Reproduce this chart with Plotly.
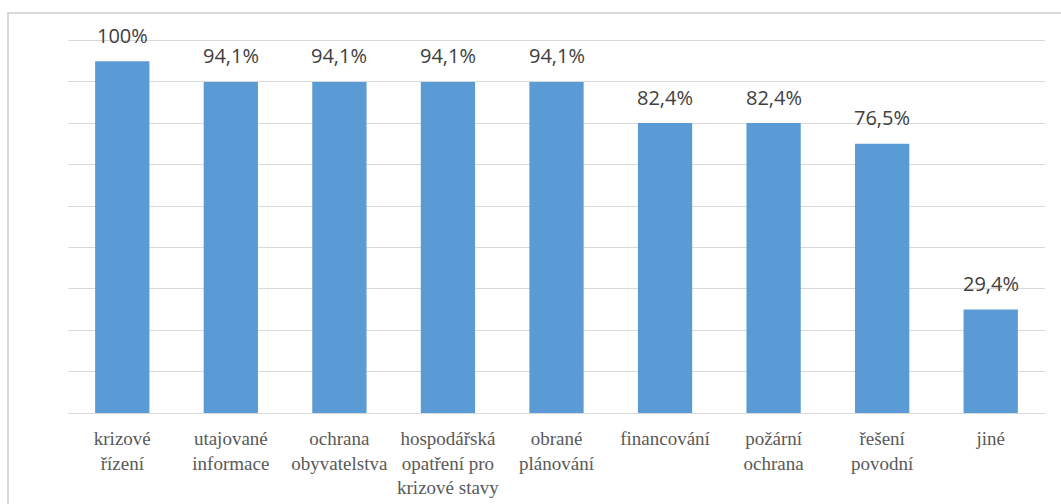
import plotly.graph_objects as go

categories = [
    "krizové<br>řízení",
    "utajované<br>informace",
    "ochrana<br>obyvatelstva",
    "hospodářská<br>opatření pro<br>krizové stavy",
    "obrané<br>plánování",
    "financování",
    "požární<br>ochrana",
    "řešení<br>povodní",
    "jiné",
]
values = [100, 94.1, 94.1, 94.1, 94.1, 82.4, 82.4, 76.5, 29.4]

# percent labels with Czech decimal comma
labels = [("%g" % v).replace(".", ",") + "%" for v in values]

# axis runs 0..18 respondents (17 = 100 %), gridline every 2
unit = 100 / 17
fig = go.Figure(go.Bar(
    x=categories, y=values,
    marker_color="#5b9bd5", marker_line_width=0,
    hoverinfo="skip",
))

for c, v, t in zip(categories, values, labels):
    fig.add_annotation(x=c, y=v, text=t, showarrow=False,
                       yanchor="middle", yshift=26,
                       font=dict(family="Open Sans", size=20, color="#404040"))

fig.update_layout(
    width=1061, height=504,
    margin=dict(l=68, r=16, t=39, b=91),
    paper_bgcolor="white", plot_bgcolor="white",
    bargap=0.5, showlegend=False,
    shapes=[dict(type="rect", xref="paper", yref="paper",
                 x0=-0.0614, x1=1.1, y0=-0.3, y1=1.0695,
                 line=dict(color="#d9d9d9", width=2), layer="below")],
)
fig.update_xaxes(
    tickfont=dict(family="Liberation Serif", size=19, color="#595959"),
    showline=True, linecolor="#d9d9d9", linewidth=1,
    ticks="", ticklabelstandoff=8, automargin=False, fixedrange=True,
)
fig.update_yaxes(
    range=[0, 18 * unit * 1.004], dtick=2 * unit, tick0=0,
    showticklabels=False, gridcolor="#d9d9d9", gridwidth=1,
    zeroline=False, fixedrange=True,
)

fig.write_html("out.html", config={"displayModeBar": False},
               post_script="document.body.style.margin='0';")
